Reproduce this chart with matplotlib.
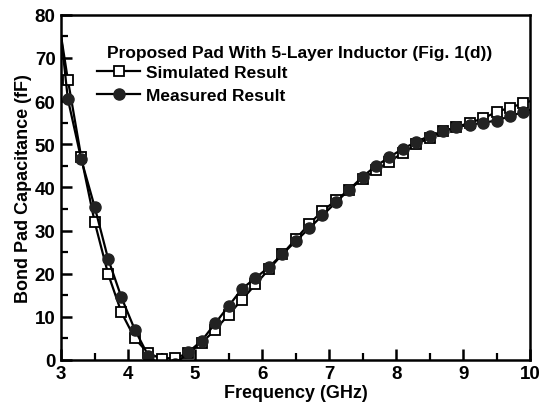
import numpy as np
import matplotlib.pyplot as plt
from matplotlib.ticker import MultipleLocator

plt.rcParams['font.family'] = 'Liberation Sans'
plt.rcParams['font.weight'] = 'bold'

# frequency points (GHz); the end points carry no marker
freq = [3.0, 3.1, 3.3, 3.5, 3.7, 3.9, 4.1, 4.3, 4.5, 4.7, 4.9,
        5.1, 5.3, 5.5, 5.7, 5.9, 6.1, 6.3, 6.5, 6.7, 6.9,
        7.1, 7.3, 7.5, 7.7, 7.9, 8.1, 8.3, 8.5, 8.7, 8.9,
        9.1, 9.3, 9.5, 9.7, 9.9, 10.0]
simulated = [75, 65, 47, 32, 20, 11, 5, 1.5, 0.3, 0.5, 1.5,
             4, 7, 10.5, 14, 17.5, 21, 24.5, 28, 31.5, 34.5,
             37, 39.5, 42, 44, 46, 48, 50, 51.5, 53, 54,
             55, 56, 57.5, 58.5, 59.5, 60]
measured = [75, 60.5, 46.5, 35.5, 23.5, 14.5, 7, 1, -1.5, -1, 1.8,
            4.5, 8.5, 12.5, 16.5, 19, 21.5, 24.5, 27.5, 30.5, 33.5,
            36.5, 39.5, 42.5, 45, 47, 49, 50.5, 52, 53, 54,
            54.5, 55, 55.5, 56.5, 57.5, 58]

fig = plt.figure(figsize=(5.41, 4.06), dpi=100)
ax = fig.add_axes([0.113, 0.111, 0.867, 0.85])

marks = list(range(1, len(freq) - 1))
ax.plot(freq, simulated, color='black', lw=1.6, marker='s', ms=7.5,
        mfc='white', mec='black', mew=1.3, markevery=marks,
        label='Simulated Result')
ax.plot(freq, measured, color='black', lw=1.6, marker='o', ms=8,
        mfc='#222222', mec='#222222', markevery=marks,
        label='Measured Result')

ax.set_xlim(3, 10)
ax.set_ylim(0, 80)
ax.xaxis.set_major_locator(MultipleLocator(1))
ax.xaxis.set_minor_locator(MultipleLocator(0.5))
ax.yaxis.set_major_locator(MultipleLocator(10))
ax.yaxis.set_minor_locator(MultipleLocator(5))
ax.tick_params(which='major', direction='in', length=8, width=1.8, labelsize=13.5, pad=4)
ax.tick_params(which='minor', direction='in', length=5, width=1.6)
for s in ax.spines.values():
    s.set_linewidth(1.8)

ax.set_xlabel('Frequency (GHz)', fontsize=13, fontweight='bold', labelpad=1)
ax.set_ylabel('Bond Pad Capacitance (fF)', fontsize=13, fontweight='bold', labelpad=2)

fig.text(107 / 541, 1 - 54 / 406, 'Proposed Pad With 5-Layer Inductor (Fig. 1(d))',
         fontsize=12.5, fontweight='bold', ha='left', va='center')
ax.legend(loc='upper left', bbox_to_anchor=(97 / 541, 1 - 66 / 406),
          bbox_transform=fig.transFigure, frameon=False, fontsize=12.5,
          handlelength=2.5, handletextpad=0.35, labelspacing=0.45,
          borderpad=0, borderaxespad=0)

fig.savefig('out.png', dpi=100)
